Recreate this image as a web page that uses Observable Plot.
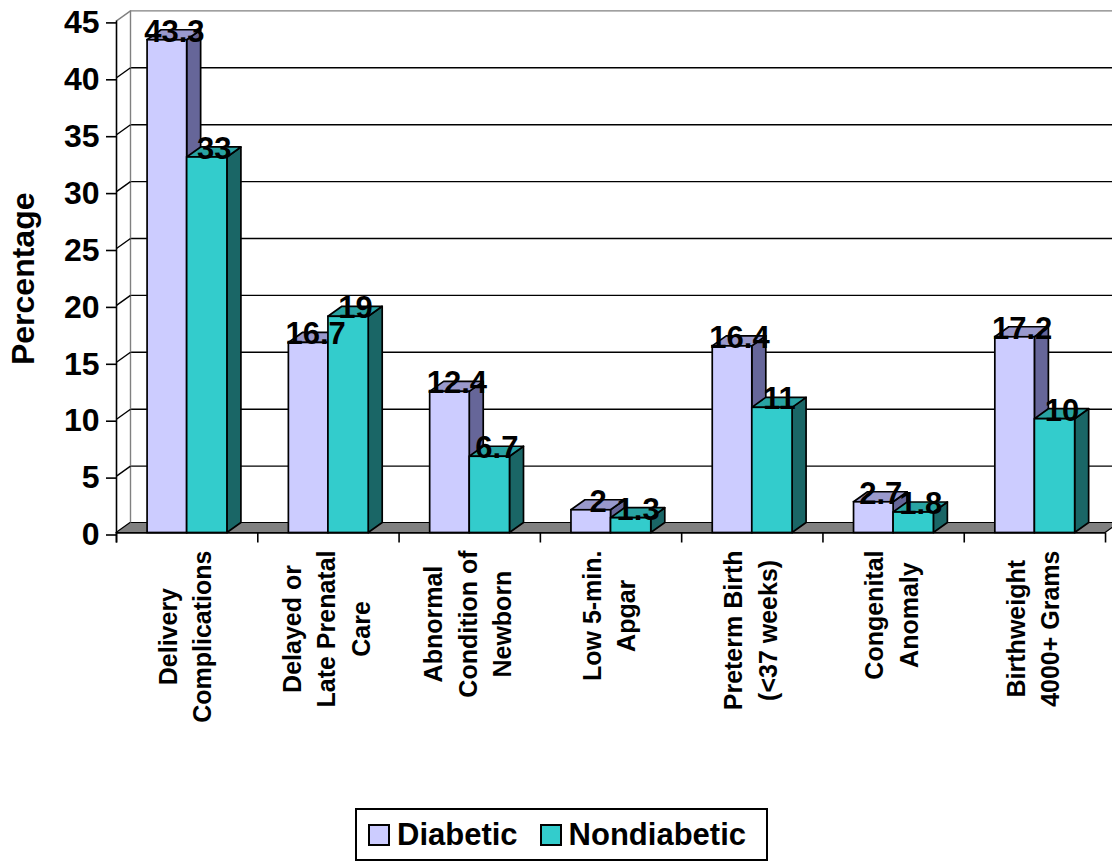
<!DOCTYPE html>
<html><head><meta charset="utf-8">
<script src="https://cdn.jsdelivr.net/npm/d3@7"></script>
<script src="https://cdn.jsdelivr.net/npm/@observablehq/plot@0.6"></script>
<style>
body{margin:0;background:#fff;font-family:'Liberation Sans',Arial,sans-serif;}
#wrap{position:relative;width:1112px;height:863px;overflow:hidden;}
#legend{position:absolute;left:355px;top:808px;width:409px;height:49px;border:2px solid #000;display:flex;align-items:center;font-weight:bold;font-size:31px;color:#000;box-sizing:content-box;}
#legend .sw{width:18px;height:18px;border:2px solid #000;display:inline-block;}
#legend .it{display:flex;align-items:center;}
</style>
</head><body>
<div id="wrap"></div>
<script>
const categories = [
  "Delivery\nComplications",
  "Delayed or\nLate Prenatal\nCare",
  "Abnormal\nCondition of\nNewborn",
  "Low 5-min.\nApgar",
  "Preterm Birth\n(<37 weeks)",
  "Congenital\nAnomaly",
  "Birthweight\n4000+ Grams"
];
const series = ["Diabetic", "Nondiabetic"];
const diabetic = [43.3, 16.7, 12.4, 2, 16.4, 2.7, 17.2];
const nondiabetic = [33, 19, 6.7, 1.3, 11, 1.8, 10];
const yTicks = [0, 5, 10, 15, 20, 25, 30, 35, 40, 45];

const colors = {
  Diabetic: {front: "#CCCCFF", top: "#9999CC", side: "#666699"},
  Nondiabetic: {front: "#33CCCC", top: "#29A3A3", side: "#1A6666"}
};

// layout
const W = 1112, H = 800, X0 = 116, Y0 = 532.5, TOP = 8;
const K = 11.38, BW = 141.29;
const XMAX = (W - X0) / BW, YMAX = (Y0 - TOP) / K;
const DX = 14 / BW, DY = 10 / K;
const offs = {Diabetic: [0.22, 0.5], Nondiabetic: [0.5, 0.785]};
const FONT = "'Liberation Sans', Arial, sans-serif";

const values = {Diabetic: diabetic, Nondiabetic: nondiabetic};
const bars = [];
categories.forEach((c, i) => series.forEach(s => {
  bars.push({i, s, v: values[s][i], x1: i + offs[s][0], x2: i + offs[s][1], id: i + "-" + s});
}));
const sides = bars.flatMap(b => [
  {id: b.id, s: b.s, x: b.x2, y1: 0, y2: b.v},
  {id: b.id, s: b.s, x: b.x2 + DX, y1: DY, y2: b.v + DY}
]);
const tops = bars.flatMap(b => [
  {id: b.id, s: b.s, y: b.v, x1: b.x1, x2: b.x2},
  {id: b.id, s: b.s, y: b.v + DY, x1: b.x1 + DX, x2: b.x2 + DX}
]);
const n = categories.length;
const floor = [{y: 0, x1: 0, x2: n}, {y: DY, x1: DX, x2: n + DX}];

// category label placement (centered lines, block ending near the axis)
const ctx = document.createElement("canvas").getContext("2d");
ctx.font = "bold 25px " + FONT;
const catLabels = categories.map((c, i) => {
  const w = d3.max(c.split("\n"), l => ctx.measureText(l).width);
  return {i, label: c, y: -((550 - Y0) + w / 2) / K};
});

const chart = Plot.plot({
  width: W, height: H,
  marginLeft: X0, marginRight: 0, marginTop: TOP, marginBottom: H - Y0,
  x: {domain: [0, XMAX]},
  y: {domain: [0, YMAX]},
  color: {type: "identity"},
  style: {fontFamily: FONT, fontWeight: "bold", color: "#000", background: "#fff"},
  marks: [
    Plot.areaX(floor, {y: "y", x1: "x1", x2: "x2", fill: "#808080", stroke: "#000", strokeWidth: 1.2}),
    Plot.ruleY(yTicks.filter(v => v > 0), {y: v => v + DY, x1: DX, x2: XMAX, stroke: v => v === 45 ? "#808080" : "#000", strokeWidth: 1.4}),
    Plot.ruleX([DX], {y1: DY, y2: 45 + DY, stroke: "#808080", strokeWidth: 1.4}),
    Plot.link(yTicks.filter(v => v > 0), {x1: 0, y1: v => v, x2: DX, y2: v => v + DY, stroke: v => v === 45 ? "#808080" : "#000", strokeWidth: 1.4}),
    Plot.areaY(sides, {x: "x", y1: "y1", y2: "y2", z: "id", fill: d => colors[d.s].side, stroke: "#000", strokeWidth: 1.7}),
    Plot.areaX(tops, {y: "y", x1: "x1", x2: "x2", z: "id", fill: d => colors[d.s].top, stroke: "#000", strokeWidth: 1.7}),
    Plot.rect(bars, {x1: "x1", x2: "x2", y1: 0, y2: "v", fill: d => colors[d.s].front, stroke: "#000", strokeWidth: 1.7}),
    Plot.ruleY([0], {x1: 0, x2: n, stroke: "#000", strokeWidth: 1.6}),
    Plot.ruleX([0], {y1: -DY, y2: 45, stroke: "#000", strokeWidth: 1.6}),
    Plot.axisY(yTicks, {tickSize: 10, tickPadding: 7, fontSize: 32, label: null, strokeWidth: 1.6, dy: 2}),
    Plot.axisX(d3.range(0, n + 1), {tickSize: 10, tickFormat: () => "", label: null, strokeWidth: 1.6}),
    Plot.text(bars, {x: d => (d.x1 + d.x2) / 2 + DX / 2, y: "v", text: d => String(d.v), lineAnchor: "bottom", dy: 1.5, fontSize: 31, fill: "#000"}),
    Plot.text(catLabels, {x: d => d.i + 0.5, y: "y", text: "label", rotate: -90, textAnchor: "middle", lineAnchor: "middle", lineHeight: 1.38, fontSize: 25, dx: -4, fill: "#000"}),
    Plot.text(["Percentage"], {frameAnchor: "left", rotate: -90, textAnchor: "middle", lineAnchor: "middle", dx: -93, dy: 8, fontSize: 32, fill: "#000"})
  ]
});

const wrap = document.getElementById("wrap");
wrap.append(chart);

const legend = document.createElement("div");
legend.id = "legend";
series.forEach((s, j) => {
  const it = document.createElement("div");
  it.className = "it";
  it.style.marginLeft = j === 0 ? "11px" : "22px";
  const sw = document.createElement("span");
  sw.className = "sw";
  sw.style.background = colors[s].front;
  const t = document.createElement("span");
  t.textContent = s;
  t.style.marginLeft = "7px";
  it.append(sw, t);
  legend.append(it);
});
wrap.append(legend);
</script>
</body></html>
